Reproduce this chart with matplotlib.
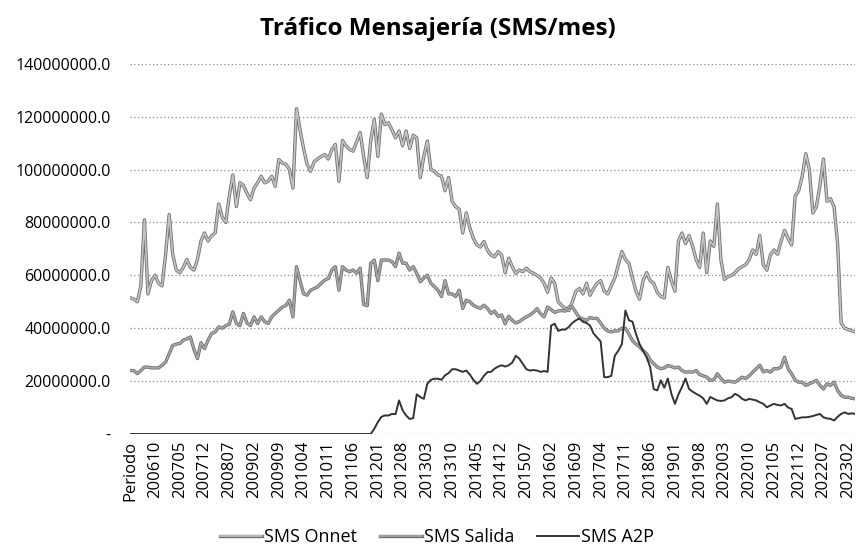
import matplotlib
matplotlib.use('Agg')
import matplotlib.pyplot as plt
import matplotlib.patheffects as pe
from matplotlib.ticker import FuncFormatter, MultipleLocator
import numpy as np

plt.rcParams.update({'font.family': ['Open Sans', 'DejaVu Sans']})

# categories: header row "Periodo" followed by monthly periods 200604 .. 202304
periods = ['Periodo']
for yy in range(2006, 2024):
    for mm in range(1, 13):
        p = yy * 100 + mm
        if 200604 <= p <= 202304:
            periods.append(str(p))

# monthly traffic, millions of SMS
sms_onnet = [
    51.5, 51, 50, 56, 81, 53, 58, 60, 57, 56,
    68, 83, 68, 62, 61, 63, 66, 63, 62, 66,
    73, 76, 73, 75, 76, 87, 82, 80, 90, 98,
    86, 95, 94, 91, 88.6, 93, 95, 97.5, 95, 95.6,
    97.5, 93.7, 103.8, 102.5, 102, 100, 93, 123, 115, 108,
    102, 99.4, 103, 104, 105, 105.7, 104, 107.6, 109.5, 95.6,
    111, 109, 107.6, 107, 110.5, 114, 105, 97, 111, 119,
    105, 121, 117, 117.7, 115, 112, 114.6, 109, 114.6, 108,
    113, 112, 97, 105, 110.8, 100, 99.4, 98, 97.5, 92,
    97, 88, 86, 85, 76, 83.6, 78, 74, 71.5, 70.7,
    72.8, 69.5, 67.7, 67, 69, 67.7, 61, 66.5, 63.3, 60.8,
    62, 61.4, 62.7, 61.4, 60.8, 60, 59, 57, 53.6, 59,
    57, 50, 48.6, 47.5, 46.7, 50, 54, 55, 53, 57,
    52.5, 55, 57, 58, 54, 53, 56, 59, 64, 69,
    66, 64.6, 59, 54, 51, 58, 61, 58, 57, 53.6,
    52, 51.5, 63, 58, 54, 73, 76, 72, 75, 71,
    66, 63, 76, 61, 73, 71, 87, 66, 58.5, 59.5,
    60, 61, 62.5, 63.3, 64, 66, 69.6, 68, 75, 64,
    62, 67.7, 69.6, 68, 72.8, 77, 74, 71.5, 90, 92,
    97.5, 106, 100, 83.6, 86, 94, 104, 88, 89, 86,
    72, 42, 40, 39.5, 39, 38.6,
]

sms_salida = [
    24, 24, 22.8, 24, 25.3, 25.3, 25, 25, 25, 26,
    27.2, 30.4, 33.5, 34, 34.2, 35.5, 36, 36.7, 32, 28.5,
    34.5, 32.3, 35.5, 38, 38.6, 40.5, 40, 41, 41.5, 46.2,
    41.8, 41, 45.6, 42, 41, 44.3, 41.8, 44.3, 42.5, 41.8,
    44.3, 45.6, 46.8, 48, 48.6, 50.6, 44.3, 63.3, 58, 53,
    52.5, 54.4, 55, 55.7, 57, 58.2, 58.8, 62, 63.3, 54.4,
    63.3, 62, 61.4, 62, 60.8, 62.7, 49, 48.5, 64.6, 65.8,
    58, 65.8, 65.8, 65.8, 65.2, 63.3, 68.4, 64.6, 64.6, 62,
    63.3, 60.8, 57.6, 59, 60, 57, 55.7, 54.4, 52, 58,
    53, 53, 52, 54.4, 47.5, 50.6, 50, 48.7, 48, 47.5,
    48.7, 47.5, 45.6, 46.5, 44.5, 45, 41.7, 44.5, 43, 42,
    42.5, 43.5, 44.3, 45, 46, 47.4, 45.5, 44.3, 48, 47,
    46, 46.5, 46.7, 46.5, 48, 48, 46, 44, 43.5, 43,
    44, 43.7, 43.7, 42, 40, 39, 38.6, 39, 39, 40,
    40, 37.8, 35.3, 34, 33, 31.5, 30.4, 28, 26.6, 25.3,
    24.7, 25, 25.9, 25.5, 25, 25.3, 24, 23.4, 23.5, 23.4,
    24, 22.5, 22, 21.5, 20.3, 20.5, 22.8, 21, 19.6, 20,
    19.8, 19.6, 20.5, 21.5, 21, 22, 23.4, 24.7, 26, 23.5,
    24, 23.4, 24.7, 24.7, 25.3, 29, 24.7, 22.8, 20.3, 19.6,
    19.6, 18.4, 19, 19.6, 20.3, 18.4, 17, 19, 18.4, 19.6,
    16.5, 14.6, 13.9, 13.9, 13.5, 13.3,
]

sms_a2p = [
    0, 0, 0, 0, 0, 0, 0, 0, 0, 0,
    0, 0, 0, 0, 0, 0, 0, 0, 0, 0,
    0, 0, 0, 0, 0, 0, 0, 0, 0, 0,
    0, 0, 0, 0, 0, 0, 0, 0, 0, 0,
    0, 0, 0, 0, 0, 0, 0, 0, 0, 0,
    0, 0, 0, 0, 0, 0, 0, 0, 0, 0,
    0, 0, 0, 0, 0, 0, 0, 0, 0, 2,
    4.5, 6.5, 7, 7, 7.6, 7.5, 12.7, 9, 7, 5.7,
    6, 15, 14, 13.3, 19, 20.5, 20.9, 20.9, 20.5, 22.2,
    23, 24.5, 24.5, 24, 23.5, 24, 22.5, 20.5, 19, 20,
    22, 23.4, 23.5, 24.7, 25.5, 26, 25.5, 26, 27, 29.6,
    28.5, 26.5, 24.5, 24, 24.2, 24, 23.5, 23.8, 23.5, 41,
    41.7, 39, 39.5, 39.5, 40.5, 42, 43, 43.7, 42.4, 42,
    41, 38, 36.5, 35, 21.5, 21.5, 22, 29.6, 31.5, 34,
    46.7, 43, 42.5, 37.8, 34, 31.5, 29, 25.3, 17, 16.5,
    20.3, 17.5, 21, 15.2, 11.4, 15, 17.8, 21, 17, 16,
    15.2, 14.5, 13.5, 11.4, 14, 13.3, 12.7, 12.5, 12.7, 13.5,
    13.9, 15.2, 14.5, 13.3, 12.7, 13.3, 13, 12.7, 12, 11.4,
    10.1, 10.8, 11.4, 11, 10.8, 11.4, 10, 9.5, 5.7, 6,
    6.3, 6.3, 6.5, 6.8, 7.2, 7.6, 6.3, 5.9, 5.7, 5.1,
    6.5, 7.6, 8.2, 7.6, 7.8, 7.6,
]

series_names = ['SMS Onnet', 'SMS Salida', 'SMS A2P']
title = 'Tráfico Mensajería (SMS/mes)'

xx = np.arange(len(periods))
onnet = np.array(sms_onnet) * 1e6
salida = np.array(sms_salida) * 1e6
a2p = np.array(sms_a2p) * 1e6

fig = plt.figure(figsize=(8.57, 5.6), dpi=100)
ax = fig.add_axes([0.152, 0.225, 0.846, 0.661])

outline = [pe.Stroke(linewidth=2.4, foreground='#6e6e6e'), pe.Normal()]
l1, = ax.plot(xx, onnet, color='#c4c4c4', lw=1.2, path_effects=outline, label=series_names[0], zorder=3)
l2, = ax.plot(xx, salida, color='#a8a8a8', lw=1.2, path_effects=outline, label=series_names[1], zorder=3)
l3, = ax.plot(xx, a2p, color='#333333', lw=1.4, label=series_names[2], zorder=4)

ax.set_xlim(0, len(periods) - 1)
ax.set_ylim(0, 140e6)
ax.yaxis.set_major_locator(MultipleLocator(20e6))
ax.yaxis.set_major_formatter(FuncFormatter(lambda v, p: '-' if v == 0 else '%.1f' % v))
ax.set_xticks(xx[::7])
ax.set_xticklabels(periods[::7], rotation=90, fontsize=12)
ax.tick_params(axis='y', labelsize=11.5, length=0, pad=14)
ax.tick_params(axis='x', length=0, pad=5)
ax.grid(axis='y', color='#8c8c8c', linestyle=(0, (1, 2)), lw=0.9)
for s in ax.spines.values():
    s.set_visible(False)

fig.text(0.511, 0.948, title, ha='center', va='center', fontsize=17.5, fontweight='bold')
fig.legend(handles=[l1, l2, l3], loc='center', bbox_to_anchor=(0.51, 0.041), ncol=3,
           frameon=False, fontsize=13, handlelength=2.3, columnspacing=1.3, handletextpad=0.1)

plt.savefig('out.png', dpi=100)
